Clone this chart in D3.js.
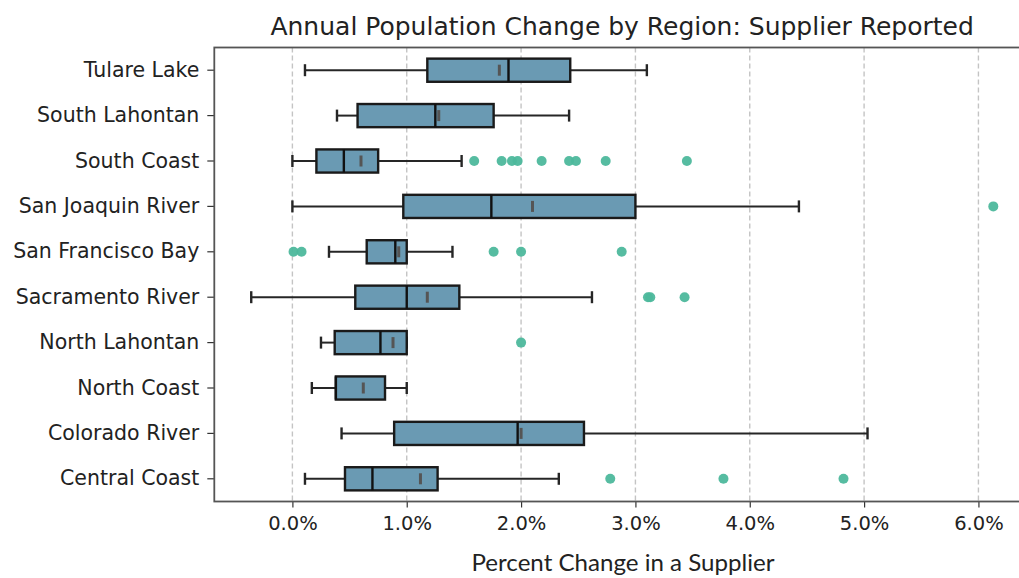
<!DOCTYPE html>
<html>
<head>
<meta charset="utf-8">
<script src="https://cdn.jsdelivr.net/npm/d3@7"></script>
<style>
  html, body { margin: 0; padding: 0; background: #fff; }
  svg { display: block; }
</style>
</head>
<body>
<svg id="chart" width="1019" height="578"></svg>
<script>
// ---- data (top row first) ----
const regions = ["Tulare Lake", "South Lahontan", "South Coast", "San Joaquin River",
  "San Francisco Bay", "Sacramento River", "North Lahontan", "North Coast",
  "Colorado River", "Central Coast"];
const whiskerLow  = [0.11, 0.39, 0.00, 0.00, 0.32, -0.36, 0.25, 0.17, 0.43, 0.11];
const q1          = [1.18, 0.57, 0.21, 0.97, 0.65, 0.55, 0.37, 0.38, 0.89, 0.46];
const median      = [1.89, 1.25, 0.45, 1.74, 0.90, 1.00, 0.77, 0.38, 1.97, 0.70];
const q3          = [2.43, 1.76, 0.75, 3.00, 1.00, 1.46, 1.00, 0.81, 2.55, 1.27];
const whiskerHigh = [3.10, 2.42, 1.48, 4.43, 1.40, 2.62, 1.00, 1.00, 5.03, 2.33];
const meanValue   = [1.81, 1.28, 0.60, 2.10, 0.93, 1.18, 0.88, 0.62, 2.00, 1.12];
const outliers = [
  [],
  [],
  [1.59, 1.83, 1.92, 1.97, 2.18, 2.42, 2.48, 2.74, 3.45],
  [6.13],
  [0.01, 0.08, 1.76, 2.00, 2.88],
  [3.11, 3.13, 3.43],
  [2.00],
  [],
  [],
  [2.78, 3.77, 4.82]
];
const xTicks = [0, 1, 2, 3, 4, 5, 6];
const titleText = "Annual Population Change by Region: Supplier Reported";
const xLabelText = "Percent Change in a Supplier";

(function () {
// ---- layout ----
const svg = d3.select("#chart");
const pL = 214.3, pR = 1030, pT = 47.5, pB = 501.5;

const x = d3.scaleLinear().domain([-0.683, 6.451]).range([pL, pR]);
const y = d3.scaleBand().domain(regions).range([pT, pB]).padding(0);

const rows = regions.map((r, i) => ({
  region: r, lo: whiskerLow[i], q1: q1[i], med: median[i], q3: q3[i],
  hi: whiskerHigh[i], mean: meanValue[i], out: outliers[i]
}));

// grid
svg.append("g").selectAll("line").data(xTicks).join("line")
  .attr("x1", d => x(d)).attr("x2", d => x(d))
  .attr("y1", pT).attr("y2", pB)
  .attr("stroke", "#c4c4c4").attr("stroke-width", 1.4)
  .attr("stroke-dasharray", "5,3");

const boxH = y.bandwidth() * 0.51;
const capH = 12;

const g = svg.append("g").selectAll("g").data(rows).join("g")
  .attr("transform", d => `translate(0,${y(d.region) + y.bandwidth() / 2})`);

// whiskers
g.append("line").attr("x1", d => x(d.lo)).attr("x2", d => x(d.q1))
  .attr("y1", 0).attr("y2", 0).attr("stroke", "#262626").attr("stroke-width", 2);
g.append("line").attr("x1", d => x(d.q3)).attr("x2", d => x(d.hi))
  .attr("y1", 0).attr("y2", 0).attr("stroke", "#262626").attr("stroke-width", 2);
// caps
g.append("line").attr("x1", d => x(d.lo)).attr("x2", d => x(d.lo))
  .attr("y1", -capH / 2).attr("y2", capH / 2).attr("stroke", "#262626").attr("stroke-width", 2.4);
g.append("line").attr("x1", d => x(d.hi)).attr("x2", d => x(d.hi))
  .attr("y1", -capH / 2).attr("y2", capH / 2).attr("stroke", "#262626").attr("stroke-width", 2.4);
// box
g.append("rect")
  .attr("x", d => x(d.q1)).attr("width", d => x(d.q3) - x(d.q1))
  .attr("y", -boxH / 2).attr("height", boxH)
  .attr("fill", "#6a9ab3").attr("stroke", "#1a1a1a").attr("stroke-width", 2.4);
// median
g.append("line").attr("x1", d => x(d.med)).attr("x2", d => x(d.med))
  .attr("y1", -boxH / 2).attr("y2", boxH / 2).attr("stroke", "#111").attr("stroke-width", 2.4);
// mean marker
g.append("line").attr("x1", d => x(d.mean)).attr("x2", d => x(d.mean))
  .attr("y1", -5.5).attr("y2", 5.5).attr("stroke", "#555").attr("stroke-width", 3);
// outliers
g.selectAll("circle").data(d => d.out).join("circle")
  .attr("cx", d => x(d)).attr("cy", 0).attr("r", 5)
  .attr("fill", "#4db89c").attr("fill-opacity", 0.95);

// axes
const xAxis = d3.axisBottom(x).tickValues(xTicks)
  .tickFormat(d => d.toFixed(1) + "%").tickSize(6).tickPadding(9);
const gx = svg.append("g").attr("transform", `translate(0,${pB})`).call(xAxis);
gx.select(".domain").remove();
gx.selectAll(".tick line").attr("stroke", "#333").attr("stroke-width", 1.2);
gx.selectAll(".tick text").attr("font-family", "DejaVu Sans").attr("font-size", 19.5).attr("fill", "#222");

const yAxis = d3.axisLeft(y).tickSize(7).tickPadding(8);
const gy = svg.append("g").attr("transform", `translate(${pL},0)`).call(yAxis);
gy.select(".domain").remove();
gy.selectAll(".tick line").attr("stroke", "#333").attr("stroke-width", 1.2);
gy.selectAll(".tick text").attr("font-family", "DejaVu Sans").attr("font-size", 20.5).attr("fill", "#222");

// frame
svg.append("rect").attr("x", pL).attr("y", pT)
  .attr("width", pR - pL).attr("height", pB - pT)
  .attr("fill", "none").attr("stroke", "#555").attr("stroke-width", 1.8);

// title
svg.append("text").attr("x", (pL + pR) / 2).attr("y", 35)
  .attr("text-anchor", "middle").attr("font-family", "DejaVu Sans")
  .attr("font-size", 25).attr("fill", "#222").text(titleText);

// x label
svg.append("text").attr("x", 623).attr("y", 571)
  .attr("text-anchor", "middle").attr("font-family", "Lato")
  .attr("font-size", 24).attr("fill", "#222")
  .attr("textLength", 303).attr("lengthAdjust", "spacingAndGlyphs")
  .text(xLabelText);
})();
</script>
</body>
</html>
